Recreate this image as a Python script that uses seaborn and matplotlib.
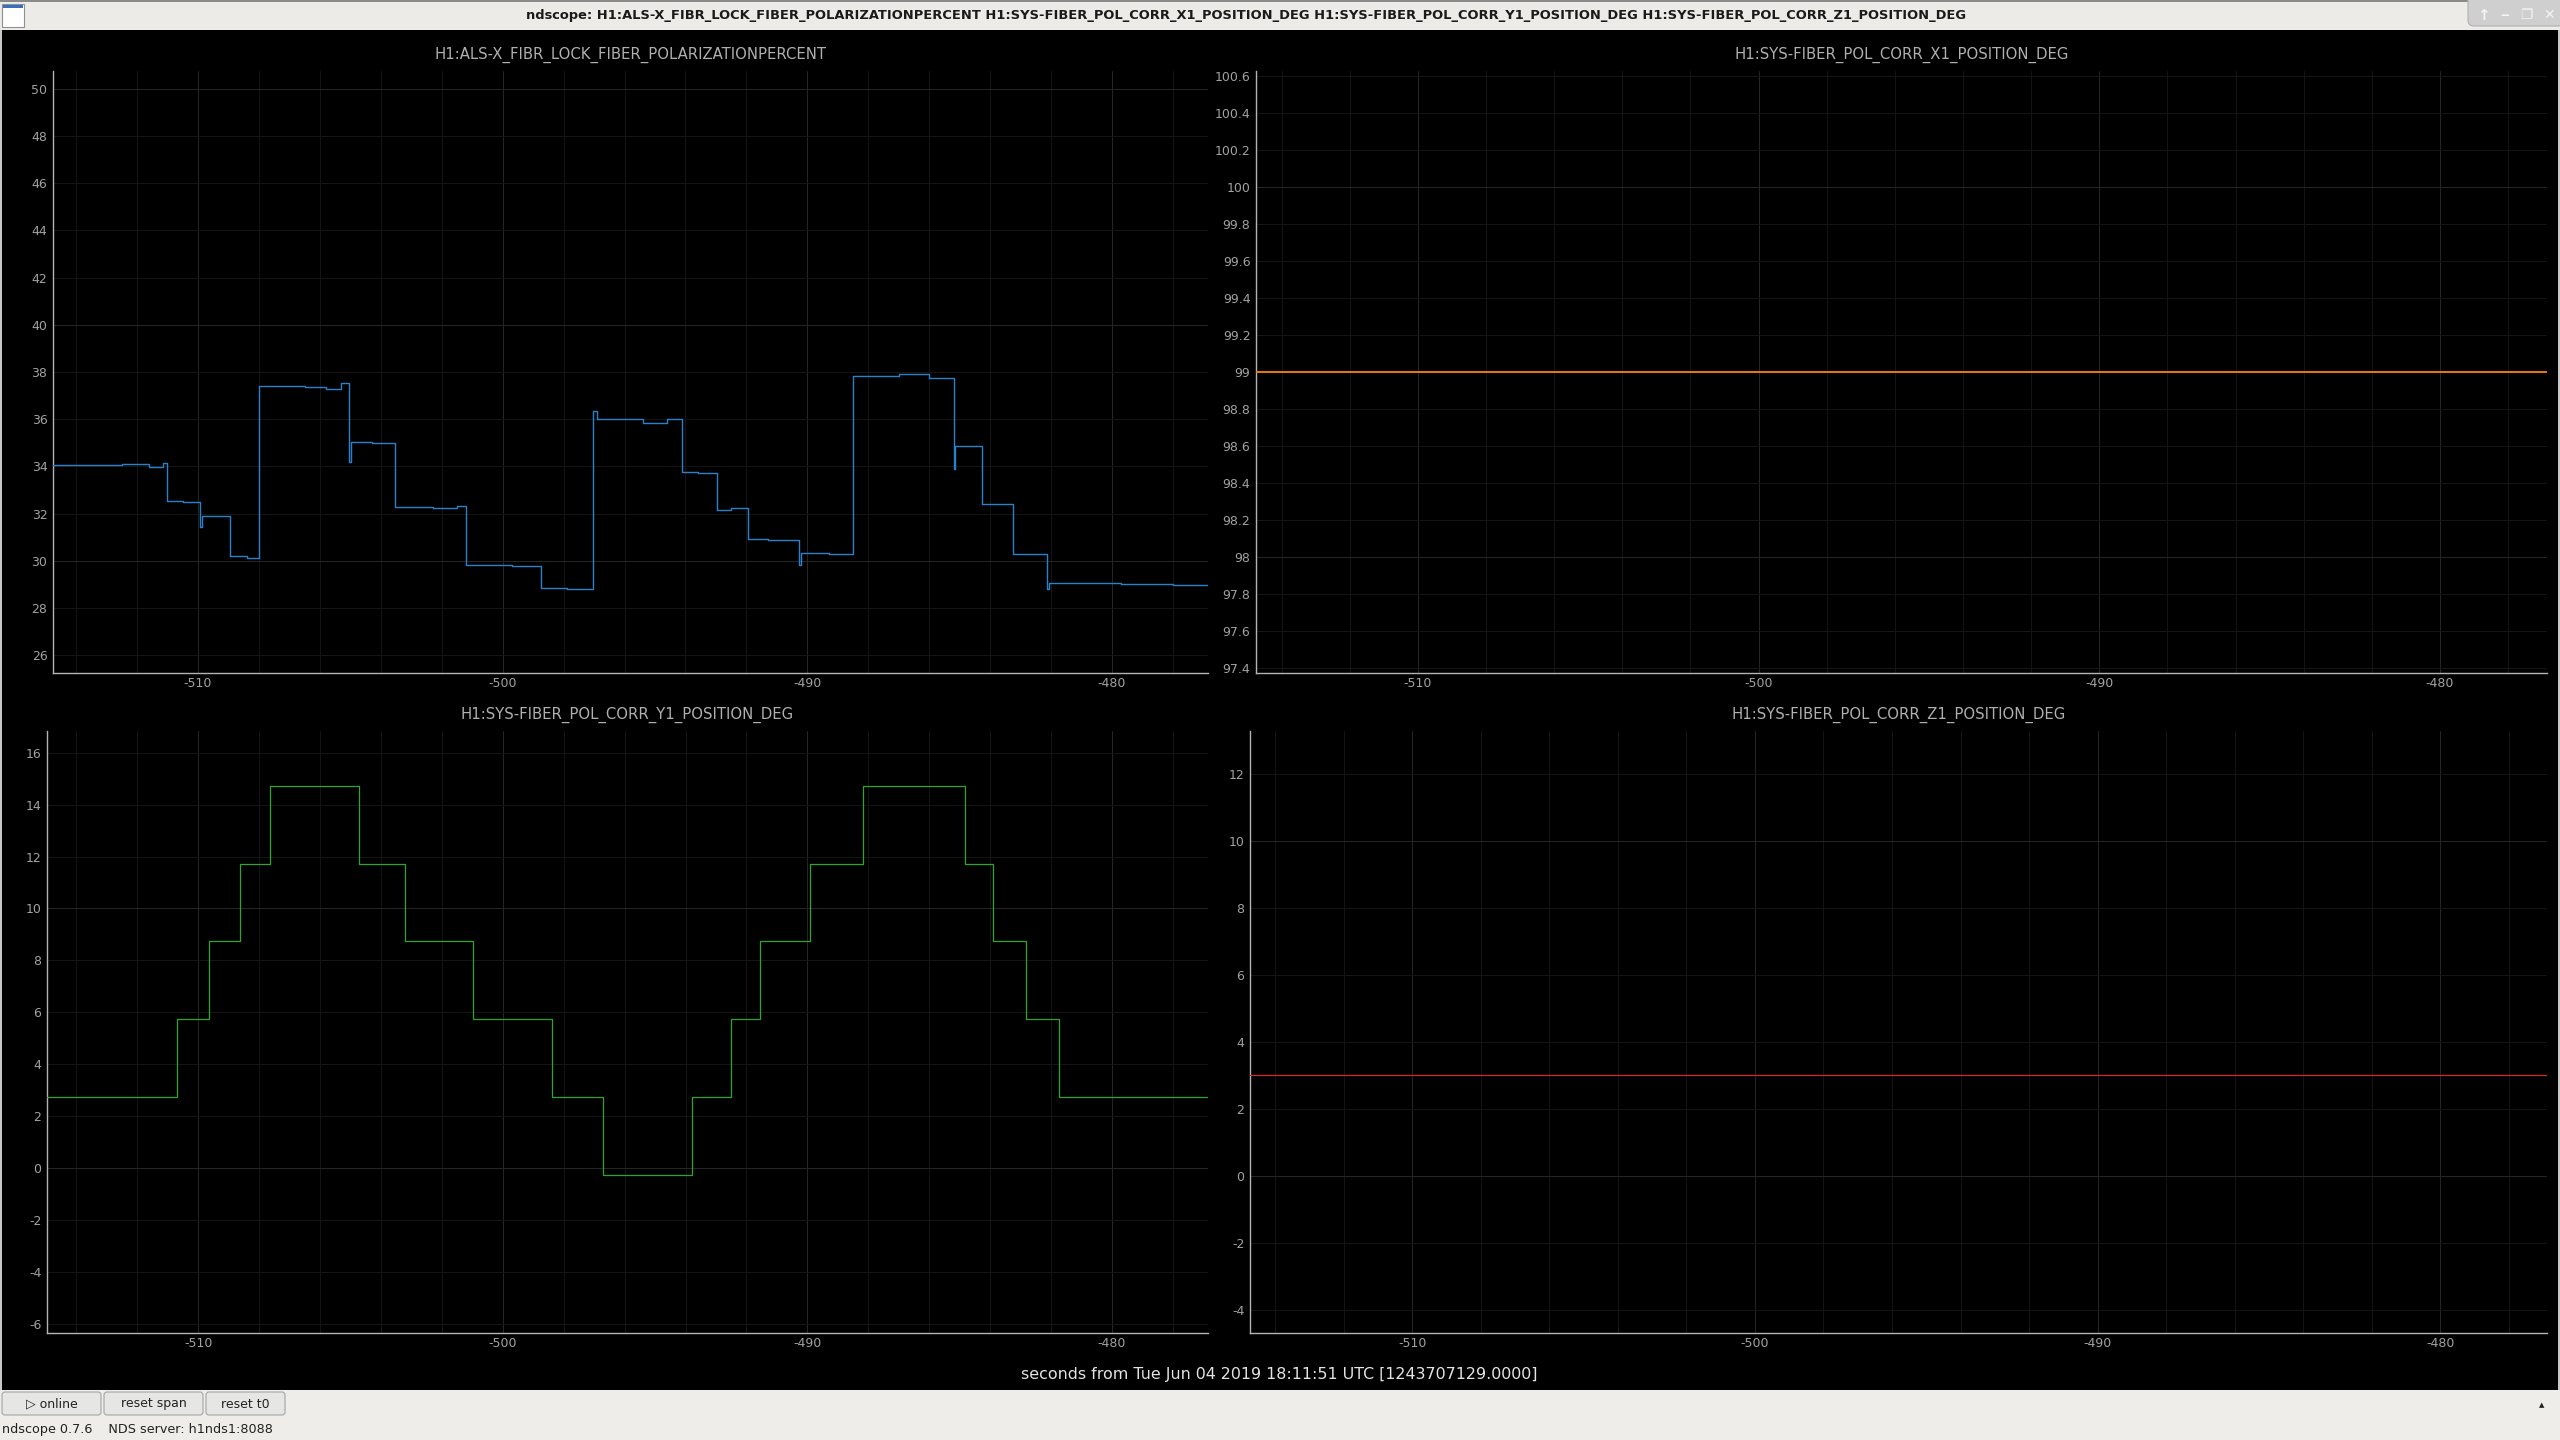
import matplotlib
matplotlib.use("Agg")
import matplotlib.pyplot as plt
import matplotlib.transforms as mtransforms
from matplotlib.patches import Rectangle, FancyBboxPatch
from matplotlib.ticker import MultipleLocator, FuncFormatter, NullFormatter
import seaborn as sns
import pandas as pd

# ---------------- data ----------------
window_title = ("ndscope: H1:ALS-X_FIBR_LOCK_FIBER_POLARIZATIONPERCENT H1:SYS-FIBER_POL_CORR_X1_POSITION_DEG "
                "H1:SYS-FIBER_POL_CORR_Y1_POSITION_DEG H1:SYS-FIBER_POL_CORR_Z1_POSITION_DEG")
channel_names = ["H1:ALS-X_FIBR_LOCK_FIBER_POLARIZATIONPERCENT",
                 "H1:SYS-FIBER_POL_CORR_X1_POSITION_DEG",
                 "H1:SYS-FIBER_POL_CORR_Y1_POSITION_DEG",
                 "H1:SYS-FIBER_POL_CORR_Z1_POSITION_DEG"]
x_label = "seconds from Tue Jun 04 2019 18:11:51 UTC [1243707129.0000]"
x_tick_values = [-510, -500, -490, -480]

# polarization percent (step changes with small wiggles / spikes)
pol_t = [-514.76, -512.5, -511.6, -511.15, -511.02, -510.5, -509.95, -509.88, -508.95, -508.4,
         -507.99, -506.5, -505.8, -505.3, -505.04, -504.97, -504.3, -503.54, -502.3, -501.5,
         -501.21, -499.7, -498.74, -497.9, -497.02, -496.9, -495.4, -494.6, -494.10, -493.6,
         -492.95, -492.5, -491.96, -491.3, -490.27, -490.20, -489.3, -488.50, -487.0, -486.0,
         -485.20, -485.14, -484.26, -483.24, -482.12, -482.06, -479.7, -478.0, -476.85]
pol_v = [34.05, 34.10, 33.97, 34.15, 32.55, 32.50, 31.45, 31.89, 30.20, 30.12,
         37.40, 37.35, 37.30, 37.52, 34.20, 35.05, 35.00, 32.28, 32.22, 32.32,
         29.82, 29.78, 28.86, 28.80, 36.33, 36.00, 35.85, 36.02, 33.76, 33.70,
         32.15, 32.25, 30.92, 30.88, 29.80, 30.31, 30.27, 37.83, 37.90, 37.75,
         33.87, 34.86, 32.40, 30.28, 28.80, 29.05, 29.00, 28.95, 28.95]

# X1 position (constant)
x1_t = [-514.75, -476.86]
x1_v = [99.0, 99.0]

# Y1 position (staircase)
y1_t = [-514.96, -510.70, -509.65, -508.63, -507.64, -504.72, -503.22, -500.97, -498.39, -496.70,
        -493.78, -492.52, -491.56, -489.90, -488.16, -484.83, -483.92, -482.82, -481.75, -476.85]
y1_v = [2.73, 5.73, 8.73, 11.73, 14.73, 11.73, 8.73, 5.73, 2.73, -0.27,
        2.73, 5.73, 8.73, 11.73, 14.73, 11.73, 8.73, 5.73, 2.73, 2.73]

# Z1 position (constant)
z1_t = [-514.74, -476.88]
z1_v = [3.0, 3.0]

# ---------------- figure ----------------
W, H = 2560, 1440
sns.set_theme(style="dark")
plt.rcParams["font.family"] = ["DejaVu Sans"]
pal = sns.color_palette("tab10")
trace_colors = ["#2a80cc", pal[1], "#2ca62c", "#d62728"]

fig = plt.figure(figsize=(W / 100, H / 100), dpi=100)
fig.patch.set_facecolor("#c8c8c8")
pix = mtransforms.Affine2D().scale(1 / W, -1 / H).translate(0, 1) + fig.transFigure


def prect(x0, y0, x1, y1, **kw):
    fig.patches.append(Rectangle((x0, y0), x1 - x0, y1 - y0, transform=pix, **kw))


# black canvas
prect(2, 30, 2558, 1390, facecolor="#000000", edgecolor="none", zorder=-5)
# window title bar
prect(0, 0, W, 30, facecolor="#ecebe8", edgecolor="none", zorder=-5)
prect(0, 0, W, 1.5, facecolor="#8a8a8a", edgecolor="none", zorder=-4)
prect(2, 4, 24, 27, facecolor="#ffffff", edgecolor="#909090", linewidth=0.8, zorder=-4)
prect(3, 5, 23, 8, facecolor="#3a6fc0", edgecolor="none", zorder=-3)
fig.patches.append(FancyBboxPatch((2468, -6), 100, 32, boxstyle="round,pad=0,rounding_size=6",
                                  transform=pix, facecolor="#cfcfcf", edgecolor="#b0b0b0",
                                  linewidth=0.8, zorder=-4))
fig.text(1246, 15.5, window_title, transform=pix, ha="center", va="center",
         fontsize=9.4, fontweight="bold", color="#1a1a1a")
for gx, gch, gs in [(2483, "\u2191", 11), (2505, "\u2012", 9), (2526, "\u2750", 10), (2549, "\u2715", 10)]:
    fig.text(gx, 15, gch, transform=pix, ha="center", va="center", fontsize=gs,
             fontweight="bold", color="#f4f4f4")

# bottom toolbar
prect(0, 1390, W, H, facecolor="#efede9", edgecolor="none", zorder=-5)
buttons = [("\u25b7 online", 2, 101), ("reset span", 104, 203), ("reset t0", 206, 285)]
for label, bx0, bx1 in buttons:
    fig.patches.append(FancyBboxPatch((bx0, 1392), bx1 - bx0, 23, boxstyle="round,pad=0,rounding_size=3",
                                      transform=pix, facecolor="#e6e6e4", edgecolor="#a4a4a4",
                                      linewidth=0.8, zorder=-4))
    fig.text((bx0 + bx1) / 2, 1404, label, transform=pix, ha="center", va="center",
             fontsize=9, color="#222222")
fig.text(2, 1430, "ndscope 0.7.6    NDS server: h1nds1:8088", transform=pix, ha="left",
         va="center", fontsize=9.2, color="#222222")
fig.text(2542, 1405, "\u25b2", transform=pix, ha="center", va="center", fontsize=5, color="#222222")

fig.text(1279, 1374, x_label, transform=pix, ha="center", va="center", fontsize=11.45, color="#e4e4e4")

# panels: (left, right, top, bottom) pixels, xlim, ylim, major/minor y spacing
panels = [
    dict(box=(53, 1208, 71, 673), xlim=(-514.76, -476.85), ylim=(25.24, 50.76), ymaj=10, ymin=2,
         t=pol_t, v=pol_v, lw=1.0),
    dict(box=(1256, 2547, 71, 673), xlim=(-514.75, -476.86), ylim=(97.373, 100.627), ymaj=1, ymin=0.2,
         t=x1_t, v=x1_v, lw=1.3),
    dict(box=(47, 1208, 731, 1333), xlim=(-514.96, -476.85), ylim=(-6.36, 16.84), ymaj=10, ymin=2,
         t=y1_t, v=y1_v, lw=0.9),
    dict(box=(1250, 2547, 731, 1333), xlim=(-514.74, -476.88), ylim=(-4.70, 13.30), ymaj=10, ymin=2,
         t=z1_t, v=z1_v, lw=0.9),
]

fmt = FuncFormatter(lambda val, pos: f"{round(val, 1):g}")

for name, col, p in zip(channel_names, trace_colors, panels):
    l, r, t, b = p["box"]
    ax = fig.add_axes([l / W, 1 - b / H, (r - l) / W, (b - t) / H])
    ax.set_facecolor("#000000")
    df = pd.DataFrame({"t": p["t"], "v": p["v"]})
    sns.lineplot(data=df, x="t", y="v", ax=ax, color=col, linewidth=p["lw"],
                 drawstyle="steps-post", estimator=None, sort=False, zorder=3)
    ax.set_xlim(*p["xlim"])
    ax.set_ylim(*p["ylim"])
    ax.set_xlabel("")
    ax.set_ylabel("")
    ax.xaxis.set_major_locator(MultipleLocator(10))
    ax.xaxis.set_minor_locator(MultipleLocator(2))
    ax.xaxis.set_minor_formatter(NullFormatter())
    ax.xaxis.set_major_formatter(FuncFormatter(lambda val, pos: f"{val:g}"))
    ax.set_xticks(x_tick_values)
    ax.yaxis.set_major_locator(MultipleLocator(p["ymaj"]))
    ax.yaxis.set_minor_locator(MultipleLocator(p["ymin"]))
    ax.yaxis.set_major_formatter(fmt)
    ax.yaxis.set_minor_formatter(fmt)
    ax.grid(which="major", color="#252525", linewidth=0.75)
    ax.grid(which="minor", color="#141414", linewidth=0.75)
    ax.set_axisbelow(True)
    ax.tick_params(which="both", length=0, colors="#a2a2a2", labelsize=9)
    ax.tick_params(axis="y", which="both", pad=4)
    ax.tick_params(axis="x", which="both", pad=3)
    for s in ["top", "right"]:
        ax.spines[s].set_visible(False)
    for s in ["left", "bottom"]:
        ax.spines[s].set_visible(True)
        ax.spines[s].set_color("#b4b4b4")
        ax.spines[s].set_linewidth(1.0)
    fig.text((l + r) / 2, t - 16, name, transform=pix, ha="center", va="center",
             fontsize=10.75, color="#b0b0b0")

fig.savefig("out.png", dpi=100, facecolor=fig.get_facecolor())
